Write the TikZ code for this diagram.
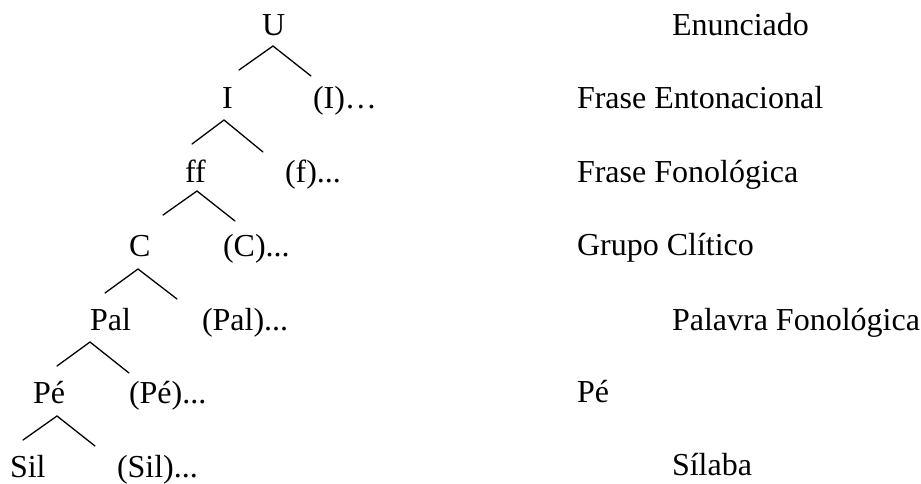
\documentclass[tikz,border=0pt]{standalone}
\usepackage{fontspec}
\setmainfont{Liberation Serif}
\begin{document}
\begin{tikzpicture}[x=1pt,y=-1pt,
  lbl/.style={anchor=base west,inner sep=0pt,outer sep=0pt,font=\fontsize{32}{38}\selectfont},
  branch/.style={line width=1.3pt,line cap=round,line join=miter}]
\useasboundingbox (0,0) rectangle (921,483);
% tree labels
\node[lbl] (U)   at (262,35)  {U};
\node[lbl] (I)   at (222,108) {I};
\node[lbl] (Ir)  at (313,108) {(I)…};
\node[lbl] (ff)  at (185,182) {ff};
\node[lbl] (fr)  at (285,182) {(f)...};
\node[lbl] (C)   at (129,256) {C};
\node[lbl] (Cr)  at (223,256) {(C)...};
\node[lbl] (Pal) at (90,330)  {Pal};
\node[lbl] (Palr) at (202,330) {(Pal)...};
\node[lbl] (Pe)  at (33,403)  {Pé};
\node[lbl] (Per) at (129,403) {(Pé)...};
\node[lbl] (Sil) at (10,477)  {Sil};
\node[lbl] (Silr) at (117,477) {(Sil)...};
% level names
\node[lbl] (n1) at (672,35)  {Enunciado};
\node[lbl] (n2) at (577,108) {Frase Entonacional};
\node[lbl] (n3) at (577,182) {Frase Fonológica};
\node[lbl] (n4) at (577,255) {Grupo Clítico};
\node[lbl] (n5) at (672,330) {Palavra Fonológica};
\node[lbl] (n6) at (577,402) {Pé};
\node[lbl] (n7) at (672,475) {Sílaba};
% branch points
\coordinate (aU) at (273,46);  \coordinate (lU) at (239,70);  \coordinate (rU) at (311,76);
\coordinate (aI) at (224,120); \coordinate (lI) at (192,144); \coordinate (rI) at (263,152);
\coordinate (af) at (197,191); \coordinate (lf) at (163,215); \coordinate (rf) at (235,221);
\coordinate (aC) at (138,269); \coordinate (lC) at (105,293); \coordinate (rC) at (177,299);
\coordinate (aP) at (90,342);  \coordinate (lP) at (57,366);  \coordinate (rP) at (129,373);
\coordinate (aE) at (57,416);  \coordinate (lE) at (23,440);  \coordinate (rE) at (95,446);
\foreach \k in {U,I,f,C,P,E}
  \draw[branch] (l\k) -- (a\k) -- (r\k);
\end{tikzpicture}
\end{document}
